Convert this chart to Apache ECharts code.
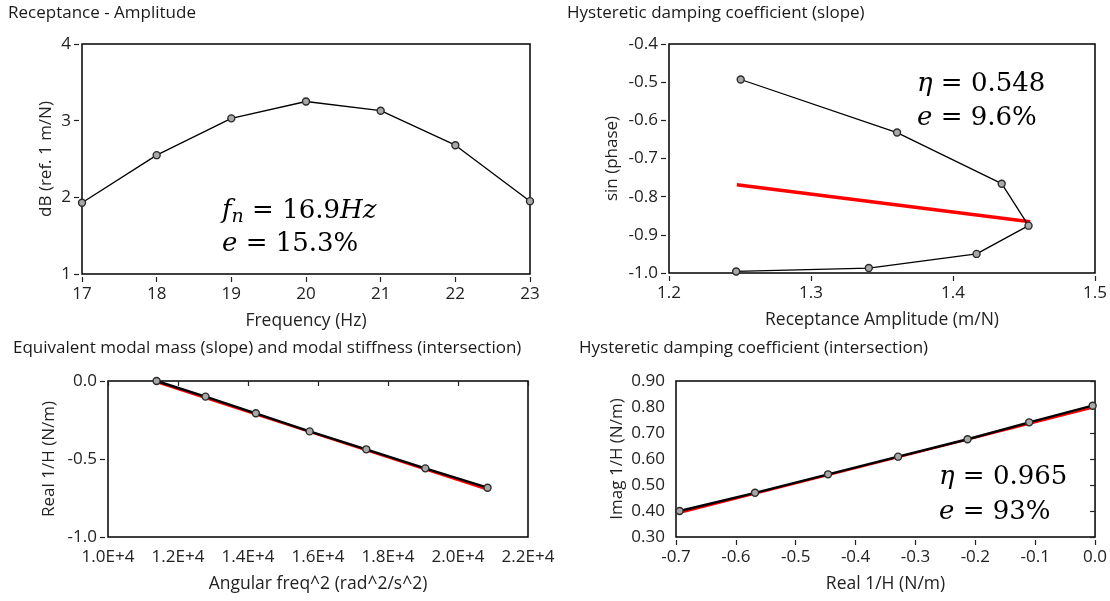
<!DOCTYPE html>
<html>
<head>
<meta charset="utf-8">
<title>Modal fit</title>
<script src="https://cdn.jsdelivr.net/npm/echarts@6/dist/echarts.min.js"></script>
<style>
  html, body { margin: 0; padding: 0; background: #fff; }
  #main { width: 1110px; height: 601px; }
</style>
</head>
<body>
<div id="main"></div>
<script>
// data =================================================================================================================
var freq = [17, 18, 19, 20, 21, 22, 23];
var ampDb = [1.93, 2.55, 3.03, 3.25, 3.13, 2.68, 1.95];

var recAmp = [1.2505, 1.3606, 1.4343, 1.4532, 1.4166, 1.3407, 1.2473];
var sinPhase = [-0.493, -0.632, -0.766, -0.876, -0.950, -0.987, -0.996];
var slopeFitX = [1.2478, 1.4544];
var slopeFitY = [-0.769, -0.866];

var omega2 = [11388, 12786, 14223, 15761, 17379, 19066, 20844];
var realInv = [0.000, -0.100, -0.207, -0.323, -0.438, -0.560, -0.684];
var massFitX = [11388, 20844];
var massFitY = [-0.008, -0.697];

var realInv2 = [-0.694, -0.568, -0.446, -0.329, -0.213, -0.110, -0.004];
var imagInv = [0.400, 0.470, 0.541, 0.609, 0.676, 0.741, 0.805];
var intFitX = [-0.694, -0.004];
var intFitY = [0.392, 0.797];

function pairs(xs, ys) {
    var out = [];
    for (var i = 0; i < xs.length; i++) out.push([xs[i], ys[i]]);
    return out;
}

var FONT = 'Open Sans';
var MATH = 'DejaVu Serif';

function axisX(idx, min, max, step, name, fmt) {
    return {
        type: 'value', gridIndex: idx, min: min, max: max, interval: step,
        offset: 3, name: name, nameLocation: 'middle', nameGap: 35,
        nameTextStyle: { fontFamily: FONT, fontSize: 17.5, color: '#222' },
        axisLine: { show: false },
        axisTick: { show: true, length: 5, lineStyle: { color: '#222', width: 1.2 } },
        axisLabel: { margin: 9, fontFamily: FONT, fontSize: 17, color: '#222', formatter: fmt },
        splitLine: { show: false }
    };
}

function axisY(idx, min, max, step, name, gap, fmt) {
    return {
        type: 'value', gridIndex: idx, min: min, max: max, interval: step,
        offset: 3, name: name, nameLocation: 'middle', nameGap: gap,
        nameTextStyle: { fontFamily: FONT, fontSize: 17, color: '#222' },
        axisLine: { show: false },
        axisTick: { show: true, length: 5, lineStyle: { color: '#222', width: 1.2 } },
        axisLabel: { margin: 8, fontFamily: FONT, fontSize: 17, color: '#222', formatter: fmt },
        splitLine: { show: false }
    };
}

function fixed(n) { return function (v) { return v.toFixed(n); }; }

var dot = { color: '#a8a8a8', borderColor: '#2a2a2a', borderWidth: 1.4 };

function points(idx, data, w) {
    return {
        type: 'line', xAxisIndex: idx, yAxisIndex: idx, data: data, z: 3,
        symbol: 'circle', symbolSize: 7, itemStyle: dot,
        lineStyle: { color: '#000', width: w }, animation: false
    };
}

function fitLine(idx, data, w) {
    return {
        type: 'line', xAxisIndex: idx, yAxisIndex: idx, data: data, z: 2,
        symbol: 'none', lineStyle: { color: '#ff0000', width: w }, animation: false
    };
}

// formula annotations, x = left edge, y = vertical centre
function mathText(x, y, parts) {
    return {
        type: 'text', x: x, y: y, z: 10,
        style: {
            text: parts,
            verticalAlign: 'middle',
            font: '26px "' + MATH + '"',
            fill: '#000',
            rich: {
                i: { fontFamily: MATH, fontStyle: 'italic', fontSize: 26 },
                r: { fontFamily: MATH, fontSize: 26 },
                s: { fontFamily: MATH, fontStyle: 'italic', fontSize: 19, verticalAlign: 'bottom', padding: [12, 0, 0, 0] }
            }
        }
    };
}

function title(text, x, y) {
    return { text: text, left: x, top: y, padding: 0,
             textStyle: { fontFamily: FONT, fontSize: 17, fontWeight: 'normal', color: '#1a1a1a' } };
}

// chart ================================================================================================================
var chart = echarts.init(document.getElementById('main'), null, { renderer: 'canvas' });

var border = { show: true, borderColor: '#000', borderWidth: 1.5, backgroundColor: 'transparent' };

chart.setOption({
    backgroundColor: '#fff',
    animation: false,
    title: [
        title('Receptance - Amplitude', 8, 5),
        title('Hysteretic damping coefficient (slope)', 567, 5),
        title('Equivalent modal mass (slope) and modal stiffness (intersection)', 13, 340),
        title('Hysteretic damping coefficient (intersection)', 579, 340)
    ],
    grid: [
        Object.assign({ left: 82, top: 44, width: 448, height: 230 }, border),
        Object.assign({ left: 669, top: 44, width: 426, height: 229 }, border),
        Object.assign({ left: 108, top: 381, width: 420, height: 156 }, border),
        Object.assign({ left: 676, top: 381, width: 421, height: 156 }, border)
    ],
    xAxis: [
        axisX(0, 17, 23, 1, 'Frequency (Hz)', fixed(0)),
        axisX(1, 1.2, 1.5, 0.1, 'Receptance Amplitude (m/N)', fixed(1)),
        axisX(2, 10000, 22000, 2000, 'Angular freq^2 (rad^2/s^2)', function (v) { return (v / 10000).toFixed(1) + 'E+4'; }),
        axisX(3, -0.7, 0, 0.1, 'Real 1/H (N/m)', fixed(1))
    ],
    yAxis: [
        axisY(0, 1, 4, 1, 'dB (ref. 1 m/N)', 24, fixed(0)),
        axisY(1, -1.0, -0.4, 0.1, 'sin (phase)', 45, fixed(1)),
        axisY(2, -1.0, 0, 0.5, 'Real 1/H (N/m)', 47, fixed(1)),
        axisY(3, 0.3, 0.9, 0.1, 'Imag 1/H (N/m)', 47, fixed(2))
    ],
    series: [
        points(0, pairs(freq, ampDb), 1.3),
        fitLine(1, pairs(slopeFitX, slopeFitY), 3.5),
        points(1, pairs(recAmp, sinPhase), 1.3),
        fitLine(2, pairs(massFitX, massFitY), 2),
        points(2, pairs(omega2, realInv), 2.4),
        fitLine(3, pairs(intFitX, intFitY), 2),
        points(3, pairs(realInv2, imagInv), 2.4)
    ],
    graphic: [
        mathText(222, 211, '{i|f}{s|n}{r| = 16.9}{i|Hz}'),
        mathText(222, 244, '{i|e}{r| = 15.3%}'),
        mathText(917, 84, '{i|η}{r| = 0.548}'),
        mathText(917, 118, '{i|e}{r| = 9.6%}'),
        mathText(939, 477, '{i|η}{r| = 0.965}'),
        mathText(939, 512, '{i|e}{r| = 93%}')
    ]
});
</script>
</body>
</html>
